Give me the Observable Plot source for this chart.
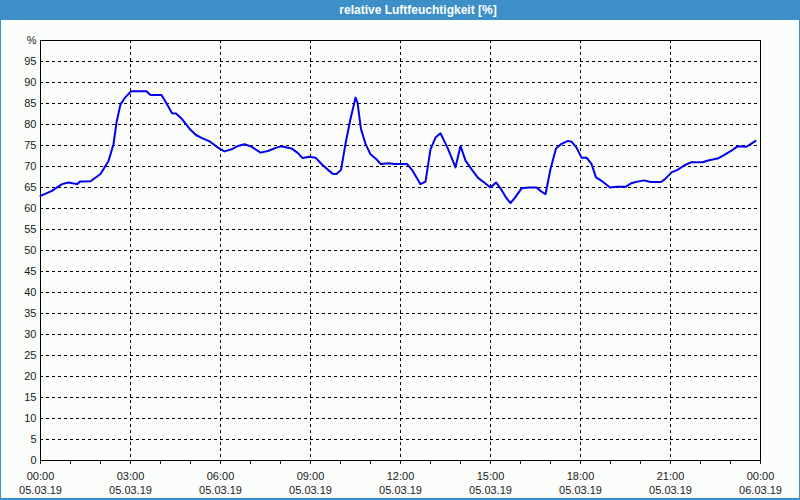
<!DOCTYPE html>
<html>
<head>
<meta charset="utf-8">
<script src="https://cdn.jsdelivr.net/npm/d3@7"></script>
<script src="https://cdn.jsdelivr.net/npm/@observablehq/plot@0.6"></script>
<style>
  html, body { margin: 0; padding: 0; background: #fbfdfb; }
  #wrap { position: relative; width: 800px; height: 500px; background: #fbfdfb; overflow: hidden; }
  #title { position: absolute; left: 0; top: 0; width: 800px; height: 20px; background: #3d8fc8;
           color: #ffffff; font: bold 12px "Liberation Sans", "DejaVu Sans", sans-serif; line-height: 20px; }
  #title span { position: absolute; left: 418px; transform: translateX(-50%); white-space: nowrap; }
  #chart { position: absolute; left: 0; top: 20px; }
  #border { position: absolute; left: 0; top: 0; width: 798px; height: 497px; border: 1px solid #3d8fc8; border-bottom-width: 2px; pointer-events: none; }
</style>
</head>
<body>
<div id="wrap">
  <div id="title"><span>relative Luftfeuchtigkeit [%]</span></div>
  <div id="chart"></div>
  <div id="border"></div>
</div>
<script>
// measurement times (05.03.19, HH:MM)
const times = [
  "00:00","00:23","00:43","00:56","01:13","01:19","01:40","02:00","02:16","02:26",
  "02:32","02:40","02:49","03:01","03:32","03:40","04:02","04:13","04:23","04:31",
  "04:43","04:58","05:11","05:22","05:38","05:55","06:08","06:22","06:35","06:48",
  "07:01","07:20","07:35","07:52","08:01","08:22","08:35","08:44","08:58","09:10",
  "09:22","09:35","09:44","09:52","10:01","10:10","10:20","10:30","10:34","10:41",
  "10:50","11:00","11:13","11:20","11:37","11:47","12:13","12:23","12:40","12:50",
  "13:00","13:10","13:20","13:34","13:50","14:00","14:10","14:23","14:35","14:46",
  "15:00","15:11","15:20","15:31","15:40","15:49","16:02","16:16","16:32","16:40",
  "16:50","17:00","17:11","17:22","17:35","17:42","17:52","18:02","18:12","18:22",
  "18:31","18:42","18:59","19:12","19:31","19:41","19:54","20:07","20:20","20:41",
  "20:50","21:02","21:14","21:28","21:41","22:04","22:17","22:34","22:47","23:01",
  "23:14","23:32","23:41","23:50"
];
// relative humidity [%]
const humidity = [
  63.0,64.2,65.8,66.2,65.8,66.4,66.5,68.2,71.3,75.3,
  80.5,84.8,86.4,87.9,87.9,87.0,87.0,84.8,82.7,82.6,
  81.3,79.0,77.5,76.8,76.0,74.5,73.6,74.1,74.9,75.3,
  74.8,73.3,73.7,74.5,74.8,74.3,73.2,72.0,72.3,72.1,
  70.6,69.2,68.3,68.2,69.2,75.4,81.3,86.4,85.2,78.9,
  75.4,72.9,71.6,70.6,70.8,70.6,70.6,69.2,65.8,66.4,
  74.1,76.9,77.9,74.5,69.8,74.9,71.4,69.2,67.3,66.3,
  65.0,66.2,64.8,62.6,61.3,62.6,64.8,65.0,65.0,64.2,
  63.4,69.4,74.3,75.4,76.1,75.9,74.5,72.1,72.1,70.6,
  67.4,66.6,65.0,65.2,65.2,66.0,66.4,66.7,66.3,66.3,
  67.1,68.6,69.2,70.3,71.0,71.0,71.5,71.9,72.7,73.7,
  74.8,74.7,75.4,76.1
];
const yTicks = [0,5,10,15,20,25,30,35,40,45,50,55,60,65,70,75,80,85,90,95,100];
const yGrid = [5,10,15,20,25,30,35,40,45,50,55,60,65,70,75,80,85,90,95];
const xStart = new Date(Date.UTC(2019, 2, 5, 0, 0));
const xEnd = new Date(Date.UTC(2019, 2, 6, 0, 0));

const data = times.map((t, i) => {
  const [h, m] = t.split(":").map(Number);
  return { date: new Date(Date.UTC(2019, 2, 5, h, m)), value: humidity[i] };
});

const hourTicks = d3.utcHour.every(1).range(xStart, new Date(+xEnd + 1));
const majorTicks = d3.utcHour.every(3).range(xStart, new Date(+xEnd + 1));
const gridTicks = majorTicks.slice(1, -1);
const fmt = d3.utcFormat("%H:%M\n%d.%m.%y");

const chart = Plot.plot({
  width: 800,
  height: 480,
  marginLeft: 40,
  marginRight: 40,
  marginTop: 20,
  marginBottom: 40,
  style: { background: "transparent", fontFamily: "'Liberation Sans', 'DejaVu Sans', sans-serif", fontSize: "11px", color: "#1a1a1a" },
  x: { type: "utc", domain: [xStart, xEnd] },
  y: { domain: [0, 100] },
  marks: [
    Plot.gridY(yGrid, { stroke: "#000", strokeOpacity: 1, strokeDasharray: "3,3" }),
    Plot.gridX(gridTicks, { stroke: "#000", strokeOpacity: 1, strokeDasharray: "3,3" }),
    Plot.axisY(yTicks, { tickSize: 0, tickPadding: 4, tickFormat: d => d === 100 ? "%" : String(d), label: null, fontSize: 11 }),
    Plot.axisX(hourTicks, { tickSize: 4, tickPadding: 4, tickFormat: () => "", label: null }),
    Plot.axisX(majorTicks, { tickSize: 4, tickPadding: 5, tickFormat: d => fmt(d), label: null, lineHeight: 1.3, fontSize: 11 }),
    Plot.frame({ stroke: "#000", strokeWidth: 1 }),
    Plot.line(data, { x: "date", y: "value", stroke: "#0000ee", strokeWidth: 2 })
  ]
});
document.getElementById("chart").appendChild(chart);
</script>
</body>
</html>
